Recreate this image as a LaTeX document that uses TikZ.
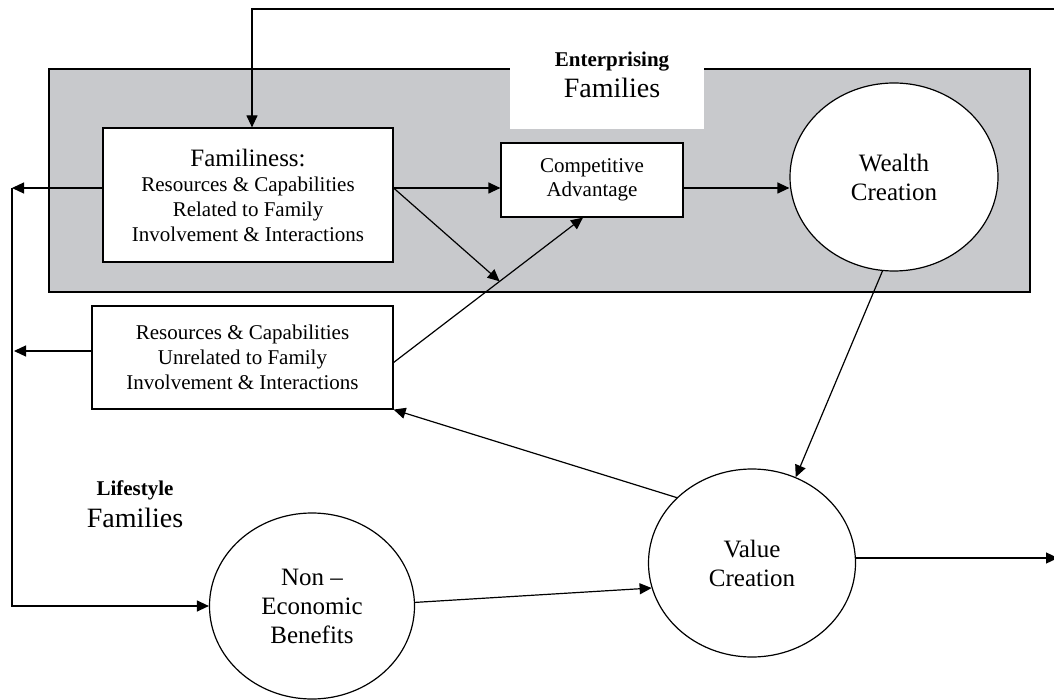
\documentclass[tikz,border=0pt]{standalone}
\usepackage{fontspec}
\setmainfont{Liberation Serif}
\usetikzlibrary{arrows.meta,shapes.geometric,calc}
\definecolor{panelgray}{RGB}{200,201,204}
\tikzset{
  arr/.style={-{Triangle[length=12pt,width=11pt]}},
  box/.style={draw, fill=white, rectangle, inner sep=0pt, align=center},
  oval/.style={draw, fill=white, ellipse, inner sep=0pt, align=center,
    font=\fontsize{25}{29}\selectfont},
  lab/.style={anchor=base, inner sep=0pt},
}
\begin{document}
\begin{tikzpicture}[x=1pt,y=-1pt,line width=1.2pt]
\clip (0,0) rectangle (1054,700);
\fill[white] (0,0) rectangle (1054,700);
% enterprising panel
\fill[panelgray, draw=black] (49,69) rectangle (1030,292);
\fill[white] (510,40) rectangle (704,129);
\node[lab, font=\bfseries\fontsize{21}{21}\selectfont] (ent) at (612,67) {Enterprising};
\node[lab, font=\fontsize{28}{28}\selectfont] (entf) at (612,98) {Families};
\node[lab, font=\bfseries\fontsize{21}{21}\selectfont] (life) at (135,495) {Lifestyle};
\node[lab, font=\fontsize{28}{28}\selectfont] (lifef) at (135,527) {Families};
% boxes
\node[box, minimum width=290pt, minimum height=134pt, font=\fontsize{21}{25}\selectfont] (fam) at (248,195)
  {{\fontsize{25}{25}\selectfont Familiness:}\\Resources \& Capabilities\\Related to Family\\Involvement \& Interactions};
\node[box, minimum width=182pt, minimum height=74pt, font=\fontsize{21}{24}\selectfont] (comp) at (592,180)
  {Competitive\\Advantage};
\node[box, minimum width=301pt, minimum height=103pt, font=\fontsize{21}{25}\selectfont] (unr) at (242.5,357.5)
  {Resources \& Capabilities\\Unrelated to Family\\Involvement \& Interactions};
% ellipses
\node[oval, minimum width=208pt, minimum height=188pt] (wealth) at (894,177) {Wealth\\Creation};
\node[oval, minimum width=207pt, minimum height=188pt] (value) at (752,563) {Value\\Creation};
\node[oval, minimum width=205pt, minimum height=186pt] (neb) at (312,606) {Non --\\Economic\\Benefits};
% coordinates
\coordinate (topR) at (1060,9);
\coordinate (L1) at (12,188);
\coordinate (L3) at (14,351);
\coordinate (R2) at (1058,558);
\coordinate (ua) at ($(unr.east)+(0,5)$);
\coordinate (cs) at ($(comp.south)+(-9,0)$);
% connectors
\draw[arr] (topR) -| ([xshift=4pt]fam.north);
\draw[arr] (fam.west |- L1) -- (L1);
\draw[arr] (L1) |- (neb.west);
\draw[arr] (unr.west |- L3) -- (L3);
\draw[arr] (fam.east |- L1) -- (comp.west |- L1);
\draw[arr] (comp.east |- L1) -- (wealth.west |- L1);
\draw[arr] (ua) -- (cs);
\draw[arr] (fam.east |- L1) -- ($(ua)!0.56!(cs)$);
\draw[arr] (wealth.263) -- (value.63);
\draw[arr] (value.139) -- (unr.south east);
\draw[arr] (neb.2) -- (value.194);
\draw[arr] (value.east |- R2) -- (R2);
\end{tikzpicture}
\end{document}
